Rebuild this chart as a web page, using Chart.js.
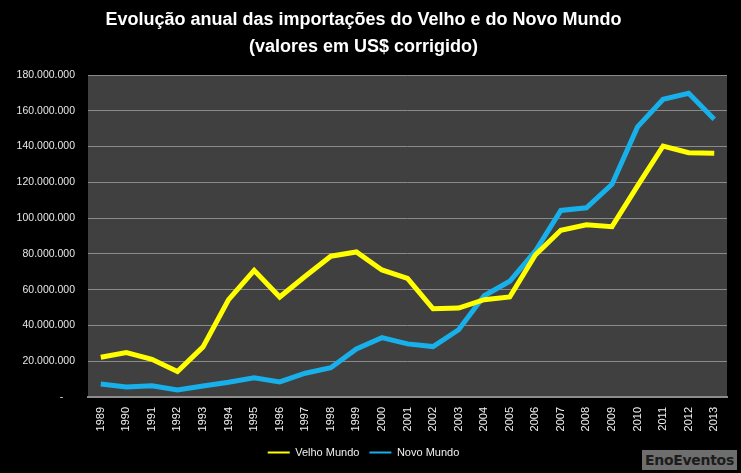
<!DOCTYPE html>
<html>
<head>
<meta charset="utf-8">
<script src="https://cdn.jsdelivr.net/npm/chart.js@4.4.1/dist/chart.umd.min.js"></script>
<style>
  html, body { margin: 0; padding: 0; background: #000; }
  #wrap { position: relative; width: 741px; height: 473px; }
  #mark {
    position: absolute; left: 642px; top: 450px; width: 95px; height: 20px;
    background: #6e6e6e; color: #1c1c1c; font: bold 14px "DejaVu Sans", sans-serif;
    line-height: 20px; text-align: center; white-space: nowrap; letter-spacing: -0.3px;
  }
</style>
</head>
<body>
<div id="wrap">
  <canvas id="chart" width="741" height="473"></canvas>
  <div id="mark">EnoEventos</div>
</div>
<script>
// anos e valores (US$ corrigido)
const years = ['1989','1990','1991','1992','1993','1994','1995','1996','1997','1998','1999','2000','2001',
               '2002','2003','2004','2005','2006','2007','2008','2009','2010','2011','2012','2013'];
const velhoMundo = [22200000, 24800000, 21100000, 14200000, 28000000, 54400000, 70800000, 55900000, 67500000,
                    78700000, 81100000, 71000000, 66300000, 49300000, 49700000, 54400000, 55900000, 79400000,
                    93200000, 96300000, 95200000, 118000000, 140300000, 136600000, 136300000];
const novoMundo = [7300000, 5600000, 6300000, 3900000, 6200000, 8200000, 10800000, 8400000, 13300000,
                   16400000, 26900000, 33200000, 29700000, 28200000, 37600000, 56600000, 64700000, 81500000,
                   104300000, 105800000, 118900000, 151000000, 166400000, 169800000, 155300000];
const yTicks = [0, 20000000, 40000000, 60000000, 80000000, 100000000, 120000000, 140000000, 160000000, 180000000];

function fmt(v) {
  if (v === 0) return '-    ';
  return String(v).replace(/\B(?=(\d{3})+(?!\d))/g, '.');
}

const plotBg = {
  id: 'plotBg',
  beforeDraw: function(chart) {
    const a = chart.chartArea;
    const ctx = chart.ctx;
    ctx.save();
    ctx.fillStyle = '#404040';
    ctx.fillRect(a.left, a.top, a.right - a.left, a.bottom - a.top);
    ctx.restore();
  }
};

const ctx = document.getElementById('chart').getContext('2d');
new Chart(ctx, {
  type: 'line',
  data: {
    labels: years,
    datasets: [{
      label: 'Velho Mundo',
      data: velhoMundo,
      borderColor: '#ffff00',
      backgroundColor: '#ffff00',
      borderWidth: 5,
      pointRadius: 0,
      tension: 0
    }, {
      label: 'Novo Mundo',
      data: novoMundo,
      borderColor: '#18b0ea',
      backgroundColor: '#18b0ea',
      borderWidth: 5,
      pointRadius: 0,
      tension: 0
    }]
  },
  plugins: [plotBg],
  options: {
    responsive: false,
    animation: false,
    layout: { padding: { left: 0, right: 14, top: 0, bottom: 5 } },
    scales: {
      x: {
        offset: true,
        grid: { display: false, drawTicks: false },
        border: { display: true, color: '#8c8c8c', width: 2 },
        ticks: {
          color: '#f0f0f0',
          font: { family: 'Liberation Sans', size: 11 },
          minRotation: 90, maxRotation: 90,
          padding: 10,
          autoSkip: false
        },
        afterFit: function(scale) { scale.height = 40; }
      },
      y: {
        min: 0, max: 180000000,
        afterBuildTicks: function(scale) {
          scale.ticks = yTicks.map(function(v) { return { value: v }; });
        },
        grid: { color: '#8a8a8a', lineWidth: 1, drawTicks: false },
        border: { display: false },
        ticks: {
          color: '#e6e6e6',
          font: { family: 'Liberation Sans', size: 10.5 },
          padding: 13,
          callback: function(v) { return fmt(v); }
        },
        afterFit: function(scale) { scale.width = 88; }
      }
    },
    plugins: {
      title: {
        display: true,
        text: ['Evolução anual das importações do Velho e do Novo Mundo', '(valores em US$ corrigido)'],
        color: '#ffffff',
        font: { family: 'Liberation Sans', size: 18, weight: 'bold', lineHeight: 1.5 },
        padding: { top: 7, bottom: 14 }
      },
      legend: {
        position: 'bottom',
        labels: {
          color: '#f0f0f0',
          font: { family: 'Liberation Sans', size: 11 },
          usePointStyle: true,
          pointStyle: 'line',
          pointStyleWidth: 22,
          padding: 10,
          generateLabels: function(chart) {
            return chart.data.datasets.map(function(ds, i) {
              return {
                text: ds.label,
                fillStyle: ds.borderColor,
                strokeStyle: ds.borderColor,
                lineWidth: 2,
                pointStyle: 'line',
                fontColor: '#f0f0f0',
                datasetIndex: i,
                hidden: false
              };
            });
          }
        }
      },
      tooltip: { enabled: false }
    }
  }
});
</script>
</body>
</html>
